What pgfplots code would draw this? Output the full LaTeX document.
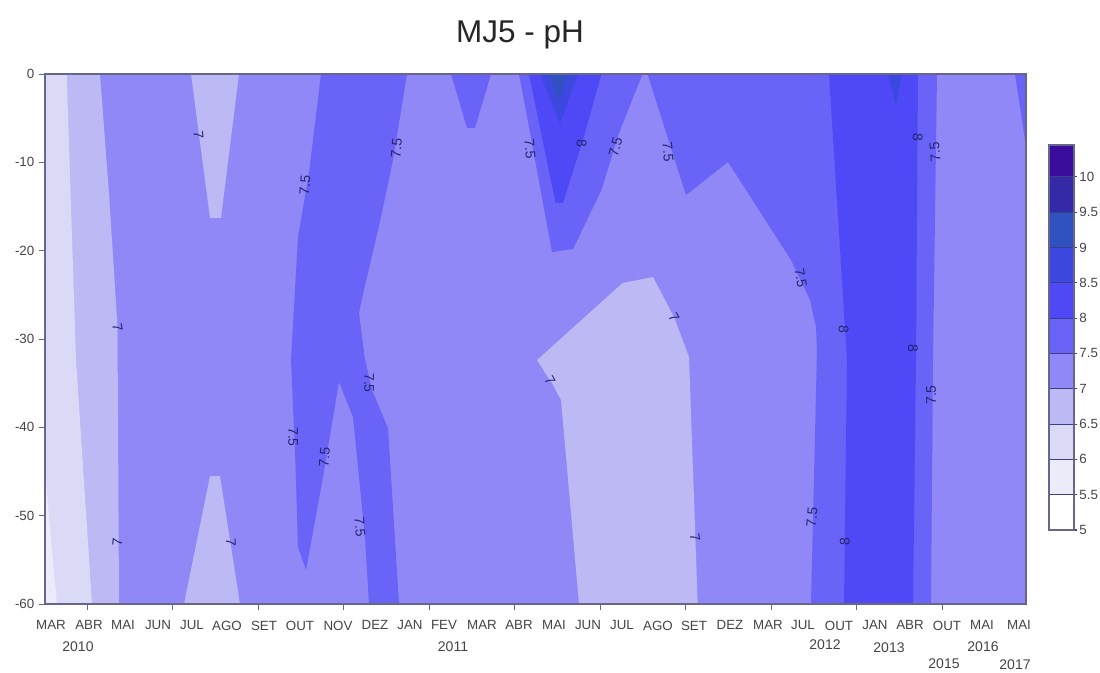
\documentclass[border=0pt]{standalone}
\usepackage{fontspec}
\setmainfont{Liberation Sans}
\usepackage{pgfplots}
\pgfplotsset{compat=1.18}
\definecolor{cA}{HTML}{FFFFFF}
\definecolor{cB}{HTML}{EBEBFA}
\definecolor{cC}{HTML}{DADAF6}
\definecolor{cD}{HTML}{BDB9F4}
\definecolor{cE}{HTML}{8F88F6}
\definecolor{cF}{HTML}{6A63F8}
\definecolor{cG}{HTML}{4E48F6}
\definecolor{cH}{HTML}{3C48E0}
\definecolor{cI}{HTML}{2F52C0}
\definecolor{cJ}{HTML}{3429A6}
\definecolor{cK}{HTML}{3A0C9C}
\definecolor{axc}{HTML}{66668C}
\definecolor{gridc}{HTML}{3E3E86}
\definecolor{txt}{HTML}{444444}
\definecolor{labc}{HTML}{24246E}
\tikzset{
  lbl/.style={font=\fontsize{10.5}{12}\selectfont,text=labc,inner sep=0pt},
  yrl/.style={font=\fontsize{10.5}{12}\selectfont,text=txt,inner sep=0pt},
}
\begin{document}
\begin{tikzpicture}[x=1pt,y=1pt]
\path[use as bounding box] (0,0) rectangle (825,504);
\node[font=\fontsize{23.6}{26}\selectfont,text=black!85] at (390,478) {MJ5 - pH};
\begin{axis}[
  at={(33.75pt,51pt)},anchor=south west,
  width=735.75pt,height=397.5pt,scale only axis,
  xmin=45,xmax=1026,ymin=-60,ymax=0,
  clip=false,axis on top,
  axis line style={axc,line width=0.8pt},
  tick style={axc,line width=0.6pt},
  tick align=outside,xtick pos=bottom,ytick pos=left,
  major tick length=4.5pt,
  xtick={87,172.5,258,343.5,429,514.5,600,685.5,771,856.5,942,1027},
  xticklabels={},
  extra x ticks={51,89,123,158,192,227,264,300,338,375,410,444,482,519,554,588,622,658,694,730,768,803,839,875,910,947,982,1019},
  extra x tick labels={MAR,ABR,MAI,JUN,JUL,AGO,SET,OUT,NOV,DEZ,JAN,FEV,MAR,ABR,MAI,JUN,JUL,AGO,SET,DEZ,MAR,JUL,OUT,JAN,ABR,OUT,MAI,MAI},
  extra x tick style={major tick style={draw=none},tick label style={yshift=-4.5pt}},
  ytick={0,-10,-20,-30,-40,-50,-60},
  yticklabels={0,-10,-20,-30,-40,-50,-60},
  tick label style={font=\fontsize{10}{12}\selectfont,text=txt},
]
% 7-7.5 background
\addplot[fill=cE,draw=none,forget plot] coordinates {(45,0)(1026,0)(1026,-60)(45,-60)};
% left bands
\addplot[fill=cD,draw=none,forget plot] coordinates {(45,0)(100,0)(109,-13.47)(117.5,-28.64)(119,-60)(45,-60)};
\addplot[fill=cC,draw=none,forget plot] coordinates {(45,0)(66.7,0)(76,-32.38)(92,-60)(45,-60)};
\addplot[fill=cB,draw=none,forget plot] coordinates {(45,-44)(48,-49)(57,-60)(45,-60)};
% 6.5-7 top and bottom tongues
\addplot[fill=cD,draw=none,forget plot] coordinates {(191,0)(239,0)(221,-16.3)(210,-16.3)};
\addplot[fill=cD,draw=none,forget plot] coordinates {(184,-60)(210,-45.51)(220,-45.51)(240,-60)};
% 7.5-8 band, 2010-2011
\addplot[fill=cF,draw=none,forget plot] coordinates {(321,0)(309,-11.21)(298,-18.45)(291,-32.38)(295,-42.57)(298,-53.55)(306,-56.15)(323,-45.62)(339,-34.87)(353,-38.83)(365,-52.42)(369,-60)(399,-60)(388,-40.08)(372,-35.77)(363,-31.25)(365,-32.38)(359,-27.06)(361,-25.92)(381,-16.19)(393,-9.74)(407,0)};
% 7.5-8 small triangle
\addplot[fill=cF,draw=none,forget plot] coordinates {(451,0)(491,0)(475,-6.11)(467,-6.11)};
% central V
\addplot[fill=cF,draw=none,forget plot] coordinates {(519,0)(529,-6)(552,-20.15)(573,-19.81)(601.5,-13.13)(619,-6.68)(642.5,0)};
\addplot[fill=cG,draw=none,forget plot] coordinates {(529,0)(601.5,0)(582,-7.81)(563,-14.6)(555.5,-14.6)};
\addplot[fill=cH,draw=none,forget plot] coordinates {(540,0)(578,0)(560,-5.6)};
\addplot[fill=cI,draw=none,forget plot] coordinates {(550,0)(568,0)(558,-2.94)};
% 6.5-7 central body
\addplot[fill=cD,draw=none,forget plot] coordinates {(537,-32.38)(622.6,-23.66)(653,-22.98)(674,-27.51)(689,-32.04)(697.7,-60)(579,-60)(561,-36.91)(553,-35.21)};
% right 7.5-8 region
\addplot[fill=cF,draw=none,forget plot] coordinates {(647.5,0)(678,-10.87)(686,-13.7)(728,-9.96)(791,-21.06)(810,-25.58)(816,-28.64)(817,-31.25)(811,-60)(931,-60)(933,-32.38)(937,0)};
\addplot[fill=cG,draw=none,forget plot] coordinates {(829,0)(847,-32.38)(844,-60)(913,-60)(916,-32.38)(918,0)};
\addplot[fill=cH,draw=none,forget plot] coordinates {(888,0)(902,0)(896,-3.51)};
\addplot[fill=cF,draw=none,forget plot] coordinates {(1015,0)(1026,0)(1026,-8.26)};
% contour labels
\node[lbl,rotate=-85] at (axis cs:198.5,-6.91) {7};
\node[lbl,rotate=85] at (axis cs:305,-12.57) {7.5};
\node[lbl,rotate=85] at (axis cs:396.5,-8.38) {7.5};
\node[lbl,rotate=-85] at (axis cs:530,-8.49) {7.5};
\node[lbl,rotate=-80] at (axis cs:117.5,-28.75) {7};
\node[lbl,rotate=-90] at (axis cs:581.6,-7.81) {8};
\node[lbl,rotate=75] at (axis cs:615.5,-8.26) {7.5};
\node[lbl,rotate=-85] at (axis cs:668,-8.83) {7.5};
\node[lbl,rotate=-90] at (axis cs:917.6,-7.13) {8};
\node[lbl,rotate=95] at (axis cs:935,-8.83) {7.5};
\node[lbl,rotate=-80] at (axis cs:800.8,-23.09) {7.5};
\node[lbl,rotate=-60] at (axis cs:674,-27.51) {7};
\node[lbl,rotate=-90] at (axis cs:843.7,-28.87) {8};
\node[lbl,rotate=-90] at (axis cs:913,-31.02) {8};
\node[lbl,rotate=-90] at (axis cs:369,-34.98) {7.5};
\node[lbl,rotate=-60] at (axis cs:550,-34.75) {7};
\node[lbl,rotate=90] at (axis cs:931,-36.34) {7.5};
\node[lbl,rotate=-90] at (axis cs:293,-41.09) {7.5};
\node[lbl,rotate=85] at (axis cs:324.5,-43.36) {7.5};
\node[lbl,rotate=-85] at (axis cs:360,-51.28) {7.5};
\node[lbl,rotate=85] at (axis cs:117.5,-52.98) {7};
\node[lbl,rotate=-90] at (axis cs:231,-52.98) {7};
\node[lbl,rotate=-80] at (axis cs:695,-52.42) {7};
\node[lbl,rotate=85] at (axis cs:812,-50.15) {7.5};
\node[lbl,rotate=90] at (axis cs:844.8,-52.98) {8};
% year labels
\node[yrl] at (axis cs:78,-64.87) {2010};
\node[yrl] at (axis cs:453,-64.87) {2011};
\node[yrl] at (axis cs:825,-64.64) {2012};
\node[yrl] at (axis cs:889,-64.98) {2013};
\node[yrl] at (axis cs:944,-66.8) {2015};
\node[yrl] at (axis cs:983,-64.87) {2016};
\node[yrl] at (axis cs:1015,-66.9) {2017};
\end{axis}
\begin{axis}[
  at={(786.75pt,106.5pt)},anchor=south west,
  width=18.75pt,height=288.75pt,scale only axis,
  xmin=0,xmax=1,ymin=5,ymax=10.45,
  xtick=\empty,
  ytick={5,5.5,6,6.5,7,7.5,8,8.5,9,9.5,10},
  yticklabels={5,5.5,6,6.5,7,7.5,8,8.5,9,9.5,10},
  yticklabel pos=right,ytick pos=right,
  tick align=outside,major tick length=2.5pt,
  axis on top,
  axis line style={axc,line width=0.8pt},
  tick style={gridc,line width=0.8pt},
  ymajorgrids,grid style={draw=gridc,line width=0.8pt},
  tick label style={font=\fontsize{10}{12}\selectfont,text=txt,xshift=-2pt},
]
\addplot[fill=cA,draw=none,forget plot] coordinates {(0,5)(1,5)(1,5.5)(0,5.5)};
\addplot[fill=cB,draw=none,forget plot] coordinates {(0,5.5)(1,5.5)(1,6)(0,6)};
\addplot[fill=cC,draw=none,forget plot] coordinates {(0,6)(1,6)(1,6.5)(0,6.5)};
\addplot[fill=cD,draw=none,forget plot] coordinates {(0,6.5)(1,6.5)(1,7)(0,7)};
\addplot[fill=cE,draw=none,forget plot] coordinates {(0,7)(1,7)(1,7.5)(0,7.5)};
\addplot[fill=cF,draw=none,forget plot] coordinates {(0,7.5)(1,7.5)(1,8)(0,8)};
\addplot[fill=cG,draw=none,forget plot] coordinates {(0,8)(1,8)(1,8.5)(0,8.5)};
\addplot[fill=cH,draw=none,forget plot] coordinates {(0,8.5)(1,8.5)(1,9)(0,9)};
\addplot[fill=cI,draw=none,forget plot] coordinates {(0,9)(1,9)(1,9.5)(0,9.5)};
\addplot[fill=cJ,draw=none,forget plot] coordinates {(0,9.5)(1,9.5)(1,10)(0,10)};
\addplot[fill=cK,draw=none,forget plot] coordinates {(0,10)(1,10)(1,10.45)(0,10.45)};
\end{axis}
\end{tikzpicture}
\end{document}
